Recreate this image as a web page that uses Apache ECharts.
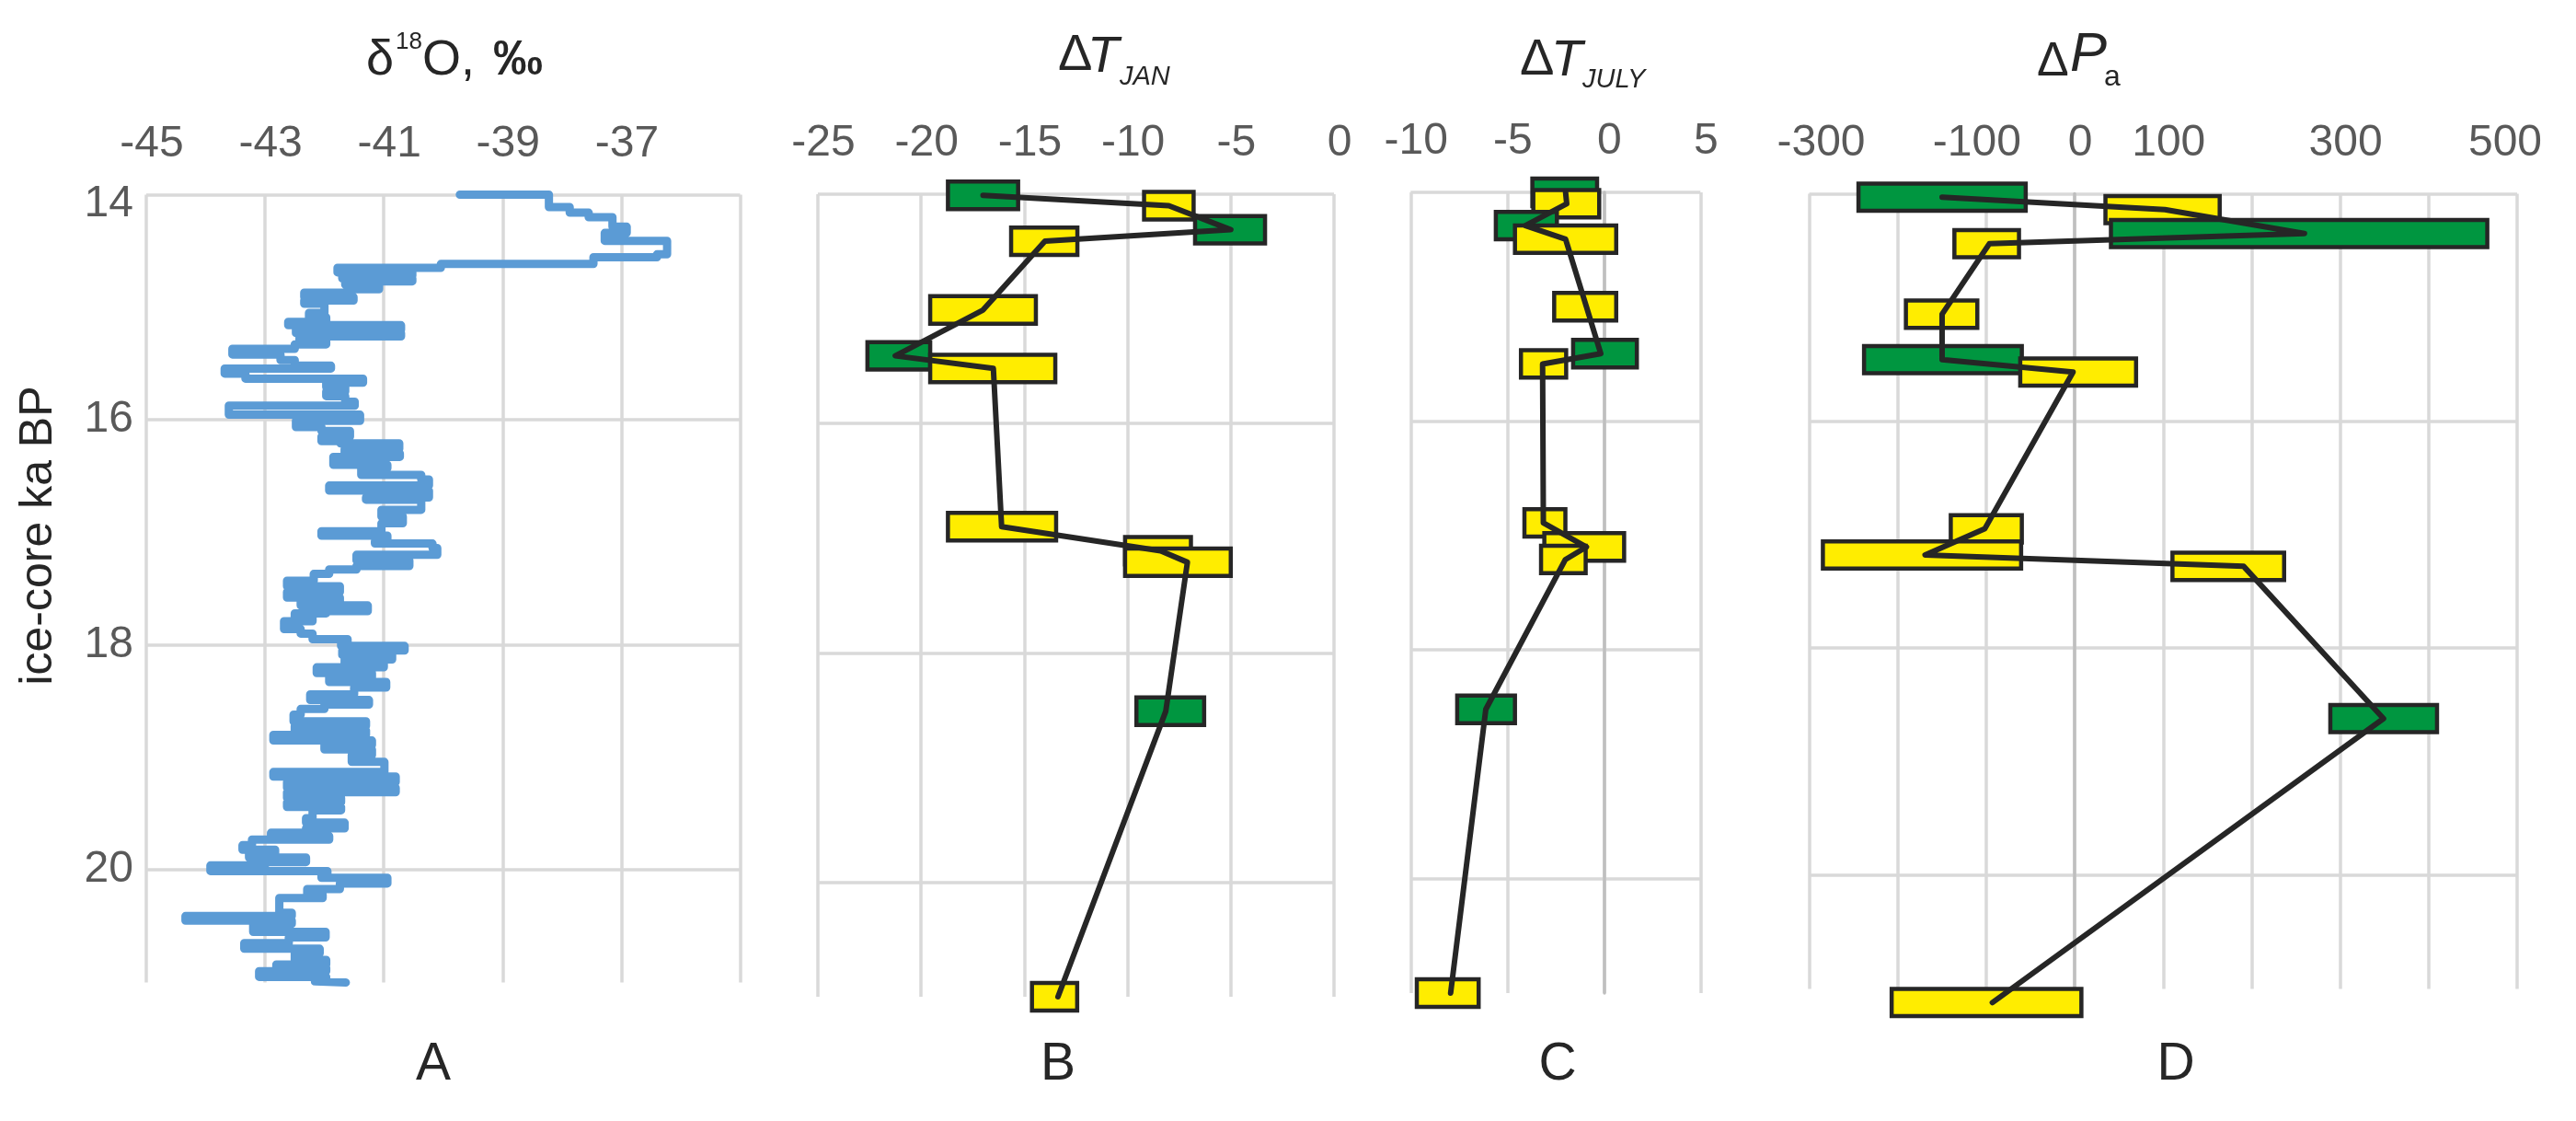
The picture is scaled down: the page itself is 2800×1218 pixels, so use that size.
<!DOCTYPE html>
<html>
<head>
<meta charset="utf-8">
<script src="https://cdn.jsdelivr.net/npm/echarts@6.0.0/dist/echarts.min.js"></script>
<style>
html,body{margin:0;padding:0;background:#ffffff;}
#chart{width:2800px;height:1218px;}
</style>
</head>
<body>
<div id="chart"></div>
<script>
// ---------- DATA ----------
// Panel A: d18O step record (value held from this age to the next age)
const d18oAge = [14.00,14.00,14.11,14.16,14.20,14.285,14.34,14.41,14.53,14.556,14.616,14.65,14.69,14.72,14.745,14.77,14.80,14.84,14.87,14.91,14.94,14.97,15.05,15.09,15.13,15.16,15.20,15.23,15.26,15.30,15.33,15.37,15.42,15.47,15.52,15.545,15.59,15.635,15.67,15.71,15.75,15.79,15.84,15.875,15.955,16.01,16.065,16.10,16.15,16.19,16.21,16.26,16.30,16.33,16.40,16.43,16.49,16.53,16.585,16.63,16.69,16.71,16.80,16.86,16.92,16.99,17.03,17.08,17.10,17.14,17.20,17.25,17.30,17.33,17.37,17.43,17.48,17.53,17.58,17.62,17.65,17.70,17.72,17.76,17.79,17.86,17.90,17.95,17.99,18.01,18.05,18.09,18.13,18.17,18.20,18.25,18.29,18.33,18.38,18.44,18.49,18.53,18.57,18.62,18.68,18.72,18.76,18.80,18.85,18.89,18.93,18.98,19.04,19.13,19.17,19.22,19.27,19.31,19.36,19.40,19.44,19.47,19.54,19.58,19.63,19.67,19.70,19.73,19.78,19.82,19.85,19.89,19.93,19.96,20.01,20.04,20.07,20.12,20.17,20.22,20.25,20.38,20.41,20.45,20.48,20.55,20.60,20.65,20.70,20.74,20.80,20.84,20.87,20.90,20.95,20.99,21.00];
const d18oValue = [-39.72,-38.22,-37.87,-37.55,-37.15,-36.91,-37.28,-36.23,-36.40,-37.47,-40.04,-41.78,-40.52,-41.70,-40.52,-41.65,-41.08,-41.60,-42.34,-41.51,-42.34,-42.00,-42.26,-41.97,-42.61,-40.71,-42.48,-40.71,-42.42,-41.97,-42.50,-43.55,-42.74,-42.50,-41.89,-43.68,-43.33,-41.35,-41.97,-41.65,-41.97,-41.65,-41.49,-43.61,-41.40,-42.48,-42.05,-41.57,-42.05,-41.73,-40.74,-41.66,-40.73,-41.85,-40.94,-41.38,-40.37,-40.24,-41.92,-40.24,-41.30,-40.37,-41.04,-40.68,-41.04,-42.05,-40.94,-41.15,-40.18,-40.10,-41.46,-40.57,-41.46,-41.92,-42.18,-42.63,-41.74,-42.63,-41.74,-42.40,-41.27,-41.97,-42.50,-42.20,-42.68,-42.40,-42.20,-41.61,-41.72,-40.65,-41.70,-40.86,-41.66,-41.00,-42.13,-41.20,-41.92,-40.96,-41.50,-42.24,-41.25,-42.00,-42.40,-42.52,-41.30,-42.50,-41.30,-42.86,-41.20,-42.00,-41.20,-41.54,-40.99,-42.86,-40.80,-42.63,-40.80,-42.63,-41.72,-42.63,-41.72,-42.20,-42.31,-41.66,-42.31,-42.90,-41.92,-43.22,-43.38,-42.83,-43.27,-42.31,-43.00,-43.92,-41.95,-42.05,-40.94,-41.74,-42.29,-42.03,-42.76,-42.55,-44.34,-42.55,-43.20,-41.98,-42.60,-43.35,-42.08,-42.50,-41.97,-42.81,-41.97,-43.10,-41.97,-42.16,-41.64];

// Sample type for the 12 reconstructions (1 = green, 0 = yellow)
const sampleKind = [1,0,1,0,0,1,0,0,0,0,1,0];

// Panel B: ΔT January
const janAge  = [14.01,14.10,14.31,14.41,15.01,15.41,15.52,16.90,17.11,17.21,18.51,21.00];
const janLo   = [-18.7,-9.2,-6.73,-15.64,-19.56,-22.6,-19.56,-18.7,-10.12,-10.12,-9.57,-14.63];
const janHi   = [-15.3,-6.8,-3.34,-12.43,-14.44,-19.56,-13.5,-13.46,-6.93,-5.0,-6.29,-12.44];
const janLine = [-17.0,-8.0,-5.0,-14.0,-17.0,-21.25,-16.5,-16.1,-8.4,-7.1,-8.15,-13.37];

// Panel C: ΔT July
const julAge  = [14.00,14.10,14.29,14.41,15.00,15.41,15.50,16.89,17.10,17.21,18.52,21.00];
const julLo   = [-3.70,-3.65,-5.59,-4.60,-2.57,-1.59,-4.29,-4.11,-3.08,-3.25,-7.59,-9.68];
const julHi   = [-0.35,-0.24,-2.43,0.64,0.64,1.71,-1.95,-1.99,1.05,-0.94,-4.60,-6.48];
const julLine = [-1.98,-1.92,-4.06,-1.98,-0.90,-0.16,-3.17,-3.13,-0.90,-1.99,-6.11,-7.93];

// Panel D: ΔP annual
const precAge  = [14.03,14.14,14.35,14.44,15.06,15.46,15.57,16.95,17.18,17.28,18.62,21.12];
const precLo   = [-244.3,34.8,41,-135.9,-190.7,-238,-61.5,-140,-284.5,110.5,288.9,-206.8];
const precHi   = [-55.3,163.9,466.3,-62.9,-110,-59.7,69.4,-59.7,-60.5,236.7,409.5,7.6];
const precLine = [-149.8,102,259.7,-96.4,-149.8,-149.8,-1.8,-101.6,-169,191,349,-93];

// Tick labels
const ageTicks = [14,16,18,20];
const xTicksA = [-45,-43,-41,-39,-37];
const xTicksD = [-300,-100,0,100,300,500];
const BOX_HALF_KA = 0.12;

// ---------- STYLE ----------
const FONT = '"Liberation Sans", Arial, sans-serif';
const GRID_COLOR = '#d9d9d9';
const ZERO_COLOR = '#bfbfbf';
const GREEN = '#009640';
const YELLOW = '#ffed00';
const INK = '#262626';

function stepVertices(ages, vals){
  const pts = [];
  for (let i = 0; i < ages.length; i++){
    pts.push([vals[i], ages[i]]);
    if (i + 1 < ages.length) pts.push([vals[i], ages[i + 1]]);
  }
  return pts;
}

const grids = [
  {left:159, top:211.5, width:645.5, height:856},
  {left:889, top:211, width:561, height:872},
  {left:1533.3, top:209, width:315, height:870},
  {left:1966.5, top:210.5, width:769.5, height:864}
];

function xAxis(idx, min, max, interval, formatter, rich){
  return {
    type:'value', gridIndex:idx, position:'top', min:min, max:max, interval:interval,
    axisLine:{show:false}, axisTick:{show:false},
    splitLine:{show:true, lineStyle:{color:GRID_COLOR, width:3.5}},
    axisLabel:{show:true, fontSize:48, color:'#595959', fontFamily:FONT, margin:31,
      padding:[0,0,0,12], formatter:formatter, rich:rich}
  };
}
function yAxis(idx, showLabels, zeroLine){
  return {
    type:'value', gridIndex:idx, inverse:true, min:14, max:21, interval:2,
    axisLine:{show:!!zeroLine, onZero:true, lineStyle:{color:ZERO_COLOR, width:3.5}},
    axisTick:{show:false},
    splitLine:{show:true, showMaxLine:false, lineStyle:{color:GRID_COLOR, width:3.5}},
    axisLabel:{show:showLabels, fontSize:48, color:'#595959', fontFamily:FONT, margin:14,
      showMaxLabel:false,
      formatter:function(v){
        if (ageTicks.indexOf(v) < 0) return '';
        return v === ageTicks[0] ? '{first|' + v + '}' : String(v);
      },
      rich:{first:{fontSize:48, color:'#595959', fontFamily:FONT, padding:[20,0,0,0]}}
    }
  };
}

function boxSeries(idx, ages, lo, hi){
  return {
    type:'custom', xAxisIndex:idx, yAxisIndex:idx, clip:false, z:3,
    encode:{x:[0,1], y:2},
    data: ages.map(function(a,i){ return [lo[i], hi[i], a, sampleKind[i]]; }),
    renderItem:function(params, api){
      const p1 = api.coord([api.value(0), api.value(2) - BOX_HALF_KA]);
      const p2 = api.coord([api.value(1), api.value(2) + BOX_HALF_KA]);
      return {
        type:'rect',
        shape:{x:p1[0], y:p1[1], width:p2[0]-p1[0], height:p2[1]-p1[1]},
        style:{fill: api.value(3) ? GREEN : YELLOW, stroke:INK, lineWidth:4.5}
      };
    },
    animation:false
  };
}
function lineSeries(idx, ages, vals){
  return {
    type:'line', xAxisIndex:idx, yAxisIndex:idx, z:5, showSymbol:false, symbol:'none',
    clip:false, animation:false,
    data: ages.map(function(a,i){ return [vals[i], a]; }),
    lineStyle:{color:INK, width:6, join:'round', cap:'round'}
  };
}

function txt(x, y, text, font, extra){
  const s = Object.assign({text:text, font:font, fill:INK, align:'left', verticalAlign:'middle'}, extra || {});
  return {type:'text', x:x, y:y, silent:true, style:s};
}

const option = {
  backgroundColor:'#ffffff',
  animation:false,
  grid: grids,
  xAxis: [
    xAxis(0, -45, -35, 2, function(v){ return xTicksA.indexOf(v) >= 0 ? String(v) : ''; }),
    xAxis(1, -25, 0, 5, function(v){ return String(v); }),
    xAxis(2, -10, 5, 5, function(v){ return String(v); }),
    xAxis(3, -300, 500, 100, function(v){
      if (xTicksD.indexOf(v) < 0) return '';
      if (v === -300) return '{r|' + v + '}';
      if (v === -100) return '{l|' + v + '}';
      if (v === 500) return '{l2|' + v + '}';
      return String(v);
    }, {
      r:{fontSize:48, color:'#595959', fontFamily:FONT, padding:[0,0,0,14]},
      l:{fontSize:48, color:'#595959', fontFamily:FONT, padding:[0,32,0,0]},
      l2:{fontSize:48, color:'#595959', fontFamily:FONT, padding:[0,38,0,0]}
    })
  ],
  yAxis: [
    yAxis(0, true, false),
    yAxis(1, false, false),
    yAxis(2, false, true),
    yAxis(3, false, true)
  ],
  series: [
    {
      type:'line', xAxisIndex:0, yAxisIndex:0, showSymbol:false, symbol:'none', animation:false,
      data: stepVertices(d18oAge, d18oValue),
      lineStyle:{color:'#5b9bd5', width:9, join:'round', cap:'round'}
    },
    boxSeries(1, janAge, janLo, janHi),
    lineSeries(1, janAge, janLine),
    boxSeries(2, julAge, julLo, julHi),
    lineSeries(2, julAge, julLine),
    boxSeries(3, precAge, precLo, precHi),
    lineSeries(3, precAge, precLine)
  ],
  graphic: [
    // y-axis title
    {type:'text', x:42, y:582, rotation:Math.PI/2, silent:true,
      style:{text:'ice-core ka BP', font:'50px ' + FONT, fill:INK, align:'center', verticalAlign:'middle'}},
    // Panel A header: δ18O, ‰
    txt(398, 66, 'δ', '54px ' + FONT),
    txt(430, 46, '18', '26px ' + FONT),
    txt(459, 66, 'O,', '54px ' + FONT),
    txt(536, 66, '‰', 'bold 54px ' + FONT),
    // Panel B header: ΔT_JAN
    txt(1150, 61, 'Δ', '56px ' + FONT),
    txt(1182, 62, 'T', 'italic 56px ' + FONT),
    txt(1217, 84, 'JAN', 'italic 29px ' + FONT),
    // Panel C header: ΔT_JULY
    txt(1652, 66, 'Δ', '56px ' + FONT),
    txt(1686, 66, 'T', 'italic 56px ' + FONT),
    txt(1720, 87, 'JULY', 'italic 29px ' + FONT),
    // Panel D header: ΔP_a
    txt(2214, 68, 'Δ', '52px ' + FONT),
    txt(2250, 60, 'P', 'italic 60px ' + FONT),
    txt(2287, 84, 'a', '32px ' + FONT),
    // Panel letters
    txt(471, 1157, 'A', '57px ' + FONT, {align:'center'}),
    txt(1150, 1157, 'B', '57px ' + FONT, {align:'center'}),
    txt(1693, 1157, 'C', '57px ' + FONT, {align:'center'}),
    txt(2365, 1157, 'D', '57px ' + FONT, {align:'center'})
  ]
};

const chart = echarts.init(document.getElementById('chart'), null, {renderer:'canvas'});
chart.setOption(option);
</script>
</body>
</html>
